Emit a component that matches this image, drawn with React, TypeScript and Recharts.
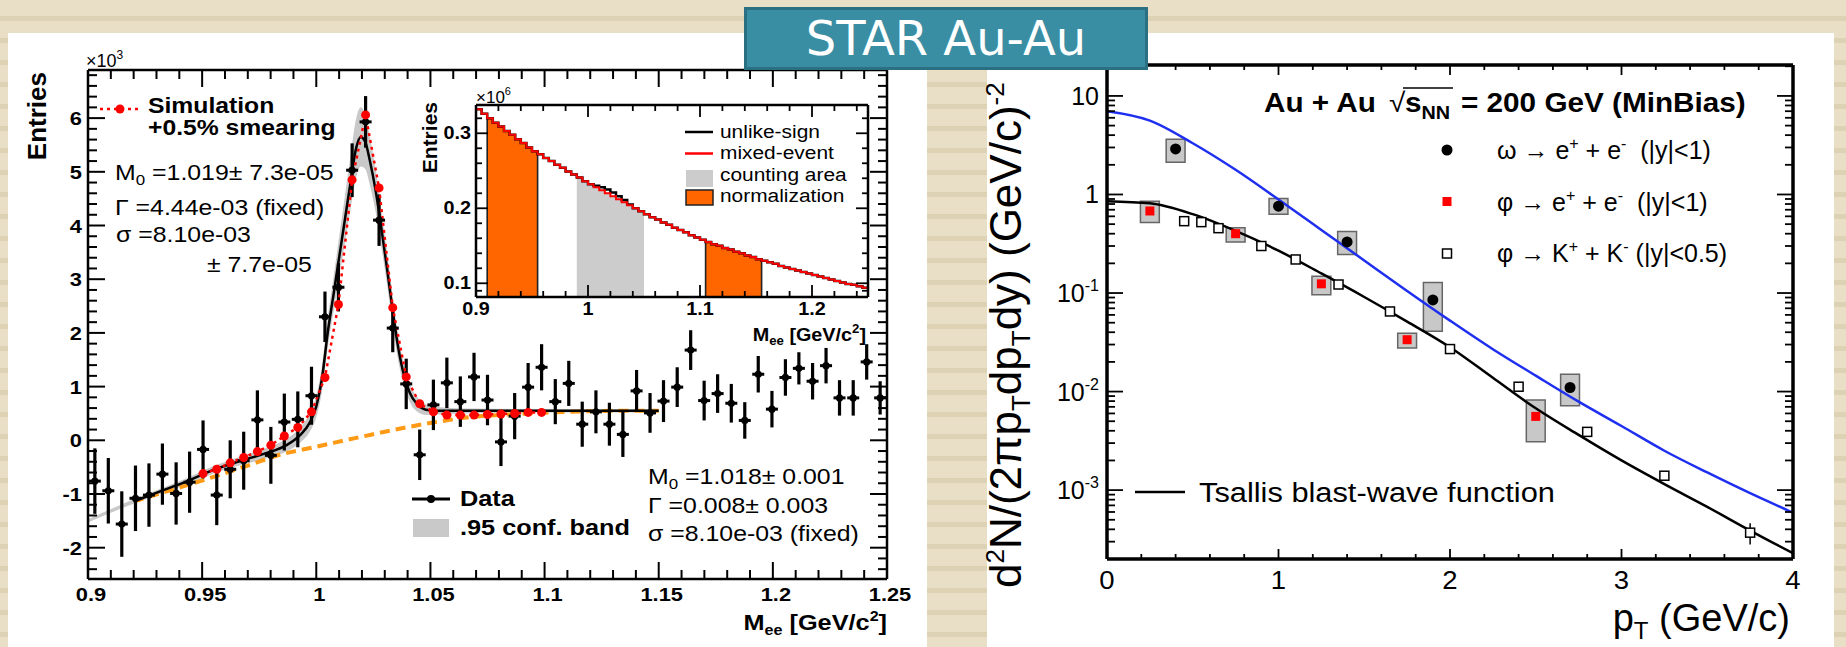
import React from "react";
import {
  ComposedChart,
  Line,
  Area,
  Scatter,
  XAxis,
  YAxis,
  ErrorBar,
  ReferenceArea,
  ReferenceLine,
} from "recharts";

// ---------- left panel: phi -> e+e- invariant mass (entries x10^3) ----------
const massBins = [
  0.903, 0.9089, 0.9148, 0.9208, 0.9267, 0.9326, 0.9386, 0.9445, 0.9504, 0.9564,
  0.9623, 0.9682, 0.9742, 0.9801, 0.986, 0.9919, 0.9979, 1.0038, 1.0097, 1.0157,
  1.0216, 1.0275, 1.0335, 1.0394, 1.0453, 1.0513, 1.0572, 1.0631, 1.0691, 1.075,
  1.0809, 1.0869, 1.0928, 1.0987, 1.1047, 1.1106, 1.1165, 1.1225, 1.1284, 1.1343,
  1.1403, 1.1462, 1.1521, 1.1581, 1.164, 1.1699, 1.1758, 1.1818, 1.1877, 1.1936,
  1.1996, 1.2055, 1.2114, 1.2174, 1.2233, 1.2292, 1.2352, 1.2411, 1.247,
];
const dataEntries = [
  -0.76, -0.94, -1.56, -1.08, -1.02, -0.63, -0.99, -0.78, -0.17, -1.02, -0.54, -0.38,
  0.38, -0.28, 0.34, 0.39, 0.83, 2.3, 2.85, 5.03, 5.93, 4.1, 2.09, 1.05, -0.27, 0.66,
  1.07, 0.72, 1.18, 0.75, -0.03, 0.45, 0.99, 1.36, 0.72, 1.06, 0.3, 0.53, 0.3, 0.11,
  0.92, 0.51, 0.73, 0.99, 1.68, 0.74, 0.87, 0.69, 0.37, 1.23, 0.58, 1.17, 1.34, 1.1,
  1.39, 0.79, 0.79, 1.46, 0.79,
];
const dataErrors = [
  0.61, 0.61, 0.61, 0.61, 0.59, 0.57, 0.58, 0.57, 0.54, 0.56, 0.54, 0.54, 0.55, 0.53,
  0.53, 0.52, 0.54, 0.47, 0.45, 0.5, 0.48, 0.48, 0.45, 0.47, 0.47, 0.47, 0.47, 0.47,
  0.45, 0.47, 0.45, 0.43, 0.45, 0.43, 0.42, 0.42, 0.42, 0.4, 0.4, 0.42, 0.39, 0.37,
  0.39, 0.37, 0.37, 0.37, 0.36, 0.36, 0.34, 0.34, 0.34, 0.34, 0.3, 0.34, 0.33, 0.33,
  0.33, 0.33, 0.31,
];
// simulation (+0.5% smearing) covers bins 8..33
const simFirstBin = 8;
const simEntries = [
  -0.62, -0.54, -0.42, -0.32, -0.21, -0.09, 0.08, 0.24, 0.53, 1.17, 2.53, 4.85, 6.06,
  4.7, 2.47, 1.18, 0.68, 0.53, 0.47, 0.47, 0.47, 0.48, 0.49, 0.5, 0.52, 0.52,
];
// fit: Breit-Wigner (x) Gauss on top of the background
const fitMass = [
  0.9, 0.92, 0.931, 0.943, 0.955, 0.967, 0.978, 0.987, 0.993, 0.997, 1.0, 1.0025,
  1.005, 1.0075, 1.01, 1.0125, 1.015, 1.0175, 1.0195, 1.0215, 1.0235, 1.026, 1.0285,
  1.031, 1.0335, 1.036, 1.0385, 1.041, 1.044, 1.048, 1.053, 1.07, 1.1, 1.125, 1.15,
];
const fitEntries = [
  -1.5, -1.14, -0.96, -0.77, -0.55, -0.38, -0.24, -0.09, 0.1, 0.32, 0.63, 1.15, 2.0,
  2.7, 3.4, 4.1, 4.8, 5.45, 5.65, 5.55, 5.2, 4.65, 3.95, 3.2, 2.4, 1.7, 1.2, 0.88, 0.68,
  0.57, 0.55, 0.55, 0.55, 0.55, 0.55,
];
const bandHalfWidth = [
  0.03, 0.04, 0.05, 0.06, 0.07, 0.08, 0.1, 0.12, 0.14, 0.17, 0.2, 0.24, 0.28, 0.32,
  0.38, 0.44, 0.5, 0.55, 0.55, 0.5, 0.45, 0.4, 0.35, 0.3, 0.27, 0.24, 0.2, 0.17, 0.14,
  0.1, 0.07, 0.04, 0.03, 0.03, 0.03,
];
const bgMass = [0.92, 0.94, 0.955, 0.97, 0.984, 1.0, 1.0235, 1.051, 1.067, 1.089, 1.111, 1.137, 1.15];
const bgEntries = [-1.14, -0.88, -0.68, -0.47, -0.27, -0.12, 0.1, 0.33, 0.43, 0.49, 0.53, 0.55, 0.55];

const mainXMajor = [0.9, 0.95, 1, 1.05, 1.1, 1.15, 1.2, 1.25];
const mainXLabels = ["0.9", "0.95", "1", "1.05", "1.1", "1.15", "1.2", "1.25"];
const mainYMajor = [-2, -1, 0, 1, 2, 3, 4, 5, 6];
const mainYLabels = ["-2", "-1", "0", "1", "2", "3", "4", "5", "6"];

// ---------- inset: same-event vs mixed-event pairs (x10^6) ----------
const insetMass = [
  0.9, 0.905, 0.91, 0.915, 0.92, 0.925, 0.93, 0.935, 0.94, 0.945, 0.95, 0.955, 0.96,
  0.965, 0.97, 0.975, 0.98, 0.985, 0.99, 0.995, 1.0, 1.005, 1.01, 1.015, 1.02, 1.025,
  1.03, 1.035, 1.04, 1.045, 1.05, 1.055, 1.06, 1.065, 1.07, 1.075, 1.08, 1.085, 1.09,
  1.095, 1.1, 1.105, 1.11, 1.115, 1.12, 1.125, 1.13, 1.135, 1.14, 1.145, 1.15, 1.155,
  1.16, 1.165, 1.17, 1.175, 1.18, 1.185, 1.19, 1.195, 1.2, 1.205, 1.21, 1.215, 1.22,
  1.225, 1.23, 1.235, 1.24, 1.245, 1.25,
];
const mixedEvent = [
  0.332, 0.326, 0.32, 0.314, 0.309, 0.303, 0.298, 0.292, 0.287, 0.281, 0.276, 0.272,
  0.267, 0.263, 0.258, 0.254, 0.249, 0.245, 0.241, 0.236, 0.232, 0.228, 0.224, 0.22,
  0.216, 0.212, 0.208, 0.204, 0.2, 0.196, 0.192, 0.188, 0.185, 0.181, 0.178, 0.174,
  0.171, 0.168, 0.164, 0.161, 0.158, 0.155, 0.152, 0.15, 0.147, 0.145, 0.142, 0.14,
  0.137, 0.135, 0.132, 0.13, 0.128, 0.126, 0.123, 0.121, 0.119, 0.117, 0.115, 0.113,
  0.111, 0.109, 0.107, 0.105, 0.103, 0.101, 0.099, 0.098, 0.096, 0.094, 0.092,
];
const unlikeSign = [
  0.332, 0.326, 0.32, 0.314, 0.309, 0.303, 0.298, 0.292, 0.287, 0.281, 0.276, 0.272,
  0.267, 0.263, 0.258, 0.254, 0.249, 0.245, 0.241, 0.236, 0.232, 0.23, 0.228, 0.225,
  0.221, 0.216, 0.211, 0.205, 0.2, 0.196, 0.192, 0.188, 0.185, 0.181, 0.178, 0.174,
  0.171, 0.168, 0.164, 0.161, 0.158, 0.155, 0.152, 0.15, 0.147, 0.145, 0.142, 0.14,
  0.137, 0.135, 0.132, 0.13, 0.128, 0.126, 0.123, 0.121, 0.119, 0.117, 0.115, 0.113,
  0.111, 0.109, 0.107, 0.105, 0.103, 0.101, 0.099, 0.098, 0.096, 0.094, 0.092,
];
const normWindows = [
  [0.91, 0.955],
  [1.105, 1.155],
];
const countWindow = [0.99, 1.05];
const insetXMajor = [0.9, 1.0, 1.1, 1.2];
const insetXLabels = ["0.9", "1", "1.1", "1.2"];
const insetYMajor = [0.1, 0.2, 0.3];
const insetYLabels = ["0.1", "0.2", "0.3"];
const insetYMin = 0.0817;

// ---------- right panel: pT spectra ----------
const omegaPt = [0.4, 1.0, 1.4, 1.9, 2.7];
const omegaYield = [2.9, 0.76, 0.33, 0.085, 0.011];
const omegaSysLow = [2.12, 0.63, 0.246, 0.041, 0.0072];
const omegaSysHigh = [3.63, 0.91, 0.42, 0.128, 0.015];
const phiEEPt = [0.25, 0.75, 1.25, 1.75, 2.5];
const phiEEYield = [0.68, 0.4, 0.124, 0.0336, 0.0056];
const phiEESysLow = [0.52, 0.33, 0.096, 0.0277, 0.0031];
const phiEESysHigh = [0.855, 0.46, 0.148, 0.039, 0.0082];
const phiKKPt = [0.45, 0.55, 0.65, 0.9, 1.1, 1.35, 1.65, 2.0, 2.4, 2.8, 3.25, 3.75];
const phiKKYield = [0.536, 0.524, 0.455, 0.3, 0.219, 0.122, 0.065, 0.027, 0.0112, 0.0039, 0.0014, 0.00037];
const phiKKErr = [0.01, 0.01, 0.009, 0.006, 0.004, 0.002, 0.001, 0.0006, 0.0004, 0.00015, 0.00008, 0.00009];
const curvePt = [0, 0.25, 0.5, 0.75, 1, 1.25, 1.5, 1.75, 2, 2.25, 2.5, 2.75, 3, 3.25, 3.5, 3.75, 4];
const omegaBlastWave = [
  7.0, 5.62, 3.31, 1.78, 0.89, 0.437, 0.214, 0.105, 0.0525, 0.0269, 0.0145, 0.0079,
  0.00447, 0.00251, 0.00151, 0.00093, 0.00059,
];
const phiBlastWave = [
  0.855, 0.813, 0.631, 0.427, 0.269, 0.158, 0.0912, 0.0513, 0.0282, 0.0138, 0.00676,
  0.00363, 0.002, 0.00115, 0.000676, 0.000389, 0.000229,
];
const sysHalfWidth = 0.055;
const ptMajor = [0, 1, 2, 3, 4];
const ptLabels = ["0", "1", "2", "3", "4"];
const yieldMajor = [10, 1, 0.1, 0.01, 0.001];
const yieldLabels = [["10", ""], ["1", ""], ["10", "-1"], ["10", "-2"], ["10", "-3"]];
const yieldDomain = [2.0e-4, 20.6];

// ---------- helpers ----------
const LS = "'Liberation Sans', Arial, Helvetica, sans-serif";

const span = (a: number, b: number, step: number) => {
  const out: number[] = [];
  for (let v = a; v <= b + step / 2; v += step) out.push(Math.round(v * 1e6) / 1e6);
  return out;
};
const logTicks = (() => {
  const out: number[] = [];
  for (let d = -4; d <= 1; d++)
    for (let m = 1; m <= 9; m++) {
      const v = +(m * Math.pow(10, d)).toPrecision(6);
      if (v > 2.05e-4 && v < 20.6) out.push(v);
    }
  return out;
})();

const within = (x: number, lo: number, hi: number) => x >= lo - 1e-9 && x <= hi + 1e-9;

// rich text: plain strings, or [text, fontSize, baselineShift] for sub/superscripts
type Part = string | [string, number, number];
function rich(parts: Part[]) {
  let shift = 0;
  return parts.map((p, k) => {
    const [t, size, s] = typeof p === "string" ? [p, undefined, 0] : p;
    const dy = s - shift;
    shift = s;
    return (
      <tspan key={k} dy={dy || undefined} fontSize={size}>
        {t}
      </tspan>
    );
  });
}

function SText({ x, y, sx = 1, anchor = "start", size, bold = false, fill = "#000", children }: any) {
  return (
    <text
      transform={`translate(${x},${y}) scale(${sx},1)`}
      textAnchor={anchor}
      fontSize={size}
      fontWeight={bold ? 700 : 400}
      fontFamily={LS}
      fill={fill}
      style={{ whiteSpace: "pre" }}
    >
      {children}
    </text>
  );
}

type Side = "bottom" | "top" | "left" | "right";
function axisTick(
  side: Side,
  majors: number[],
  majorLen: number,
  minorLen: number,
  sw: number,
  label?: (x: number, y: number, i: number) => React.ReactNode
) {
  return (props: any) => {
    const { x, y, payload } = props;
    const v = payload.value as number;
    const i = majors.findIndex((m) => Math.abs(m - v) <= 1e-9 + 1e-6 * Math.abs(m));
    const len = i >= 0 ? majorLen : minorLen;
    let x2 = x;
    let y2 = y;
    if (side === "bottom") y2 = y - len;
    else if (side === "top") y2 = y + len;
    else if (side === "left") x2 = x + len;
    else x2 = x - len;
    return (
      <g>
        <line x1={x} y1={y} x2={x2} y2={y2} stroke="#000" strokeWidth={sw} />
        {i >= 0 && label ? label(x, y, i) : null}
      </g>
    );
  };
}

// axes take 1px each so the plot box sits one pixel inside the margins
const axisBase = {
  type: "number" as const,
  allowDataOverflow: true,
  interval: 0 as const,
  tickSize: 0,
  tickMargin: 0,
  tickLine: false,
};

// ---------- rows ----------
const dataRows = massBins.map((x, i) => ({ x, y: dataEntries[i], e: dataErrors[i] }));
const simRows = simEntries.map((y, i) => ({ x: massBins[simFirstBin + i], y }));
const bandRows = fitMass.map((x, i) => ({
  x,
  lo: fitEntries[i] - bandHalfWidth[i],
  hi: fitEntries[i] + bandHalfWidth[i],
}));
const fitRows = fitMass.map((x, i) => ({ x, y: fitEntries[i] })).slice(1);
const bgRows = bgMass.map((x, i) => ({ x, y: bgEntries[i] }));

const mixedRows = insetMass.map((x, i) => ({ x, y: mixedEvent[i] }));
const unlikeRows = insetMass.map((x, i) => ({ x, y: unlikeSign[i] }));
const windowRows = (w: number[]) => mixedRows.filter((r) => within(r.x, w[0], w[1]));
const valueAt = (x: number) => mixedRows.find((r) => Math.abs(r.x - x) < 1e-9)?.y ?? insetYMin;

const omegaRows = omegaPt.map((x, i) => ({ x, y: omegaYield[i] }));
const phiEERows = phiEEPt.map((x, i) => ({ x, y: phiEEYield[i] }));
const phiKKRows = phiKKPt.map((x, i) => ({ x, y: phiKKYield[i], e: phiKKErr[i] }));
const omegaFitRows = curvePt.map((x, i) => ({ x, y: omegaBlastWave[i] }));
const phiFitRows = curvePt.map((x, i) => ({ x, y: phiBlastWave[i] }));

// ---------- markers ----------
const DataMark = (p: any) => (
  <g>
    <line x1={p.cx - 6} x2={p.cx + 6} y1={p.cy} y2={p.cy} stroke="#000" strokeWidth={3} />
    <circle cx={p.cx} cy={p.cy} r={3.6} fill="#000" />
  </g>
);
const OmegaMark = (p: any) => <circle cx={p.cx} cy={p.cy} r={5.5} fill="#000" />;
const PhiEEMark = (p: any) => <rect x={p.cx - 4.5} y={p.cy - 4.5} width={9} height={9} fill="#ff0000" />;
const PhiKKMark = (p: any) => (
  <rect x={p.cx - 4.5} y={p.cy - 4.5} width={9} height={9} fill="#fff" stroke="#000" strokeWidth={1.5} />
);

// ---------- left: invariant mass ----------
const massTicks = span(0.9, 1.25, 0.01);
const entryTicks = span(-2.4, 6.8, 0.2);
const mainBottom = axisTick("bottom", mainXMajor, 17, 9, 2, (x, y, i) => (
  <SText x={x + 3} y={y + 22} sx={1.15} anchor="middle" size={19} bold>
    {mainXLabels[i]}
  </SText>
));
const mainTop = axisTick("top", mainXMajor, 17, 9, 2);
const mainLeft = axisTick("left", mainYMajor, 17, 9, 2, (x, y, i) => (
  <SText x={x - 6} y={y + 7} sx={1.15} anchor="end" size={19} bold>
    {mainYLabels[i]}
  </SText>
));
const mainRight = axisTick("right", mainYMajor, 17, 9, 2);

function MassPlot() {
  const frame = { stroke: "#000", strokeWidth: 2.5 };
  return (
    <div style={{ position: "absolute", left: 0, top: 0 }}>
      <ComposedChart width={930} height={647} margin={{ top: 69, right: 42, bottom: 67, left: 87 }}>
        <XAxis {...axisBase} dataKey="x" domain={[0.9, 1.25]} ticks={massTicks} height={1} axisLine={frame} tick={mainBottom} />
        <XAxis {...axisBase} xAxisId="top" orientation="top" dataKey="x" domain={[0.9, 1.25]} ticks={massTicks} height={1} axisLine={frame} tick={mainTop} />
        <YAxis {...axisBase} dataKey="y" domain={[-2.583, 6.896]} ticks={entryTicks} width={1} axisLine={frame} tick={mainLeft} />
        <YAxis {...axisBase} yAxisId="right" orientation="right" dataKey="y" domain={[-2.583, 6.896]} ticks={entryTicks} width={1} axisLine={frame} tick={mainRight} />
        <Area data={bandRows} dataKey={(d: any) => [d.lo, d.hi]} type="monotone" stroke="none" fill="#c9c9c9" fillOpacity={1} dot={false} activeDot={false} isAnimationActive={false} />
        <Line data={bgRows} dataKey="y" type="monotone" stroke="#ff9a16" strokeWidth={4} strokeDasharray="10 6" dot={false} activeDot={false} isAnimationActive={false} />
        <Line data={fitRows} dataKey="y" type="monotone" stroke="#000" strokeWidth={2.5} dot={false} activeDot={false} isAnimationActive={false} />
        <Scatter data={dataRows} dataKey="y" shape={DataMark} isAnimationActive={false}>
          <ErrorBar dataKey="e" direction="y" width={0} stroke="#000" strokeWidth={3.2} isAnimationActive={false} />
        </Scatter>
        <Line data={simRows} dataKey="y" type="linear" stroke="#ff0000" strokeWidth={2.5} strokeDasharray="3 4" dot={{ r: 4.5, fill: "#ff0000", stroke: "#ff0000", strokeWidth: 0 }} activeDot={false} isAnimationActive={false} />
      </ComposedChart>
    </div>
  );
}

// ---------- inset ----------
const insetXTicks = span(0.9, 1.24, 0.02);
const insetYTicks = span(0.1, 0.32, 0.02).concat([0.09]);
const insetBottom = axisTick("bottom", insetXMajor, 12, 6, 1.8, (x, y, i) => (
  <SText x={x} y={y + 18} sx={1.1} anchor="middle" size={18} bold>
    {insetXLabels[i]}
  </SText>
));
const insetTop = axisTick("top", insetXMajor, 12, 6, 1.8);
const insetLeft = axisTick("left", insetYMajor, 12, 6, 1.8, (x, y, i) => (
  <SText x={x - 5} y={y + 6} sx={1.1} anchor="end" size={18} bold>
    {insetYLabels[i]}
  </SText>
));
const insetRight = axisTick("right", insetYMajor, 12, 6, 1.8);

function PairInset() {
  const frame = { stroke: "#000", strokeWidth: 2.5 };
  const dom = [insetYMin, 0.3377];
  return (
    <div style={{ position: "absolute", left: 400, top: 70 }}>
      <ComposedChart width={480} height={280} margin={{ top: 34, right: 11, bottom: 52, left: 75 }}>
        <XAxis {...axisBase} dataKey="x" domain={[0.9, 1.25]} ticks={insetXTicks} height={1} axisLine={frame} tick={insetBottom} />
        <XAxis {...axisBase} xAxisId="top" orientation="top" dataKey="x" domain={[0.9, 1.25]} ticks={insetXTicks} height={1} axisLine={frame} tick={insetTop} />
        <YAxis {...axisBase} dataKey="y" domain={dom} ticks={insetYTicks} width={1} axisLine={frame} tick={insetLeft} />
        <YAxis {...axisBase} yAxisId="right" orientation="right" dataKey="y" domain={dom} ticks={insetYTicks} width={1} axisLine={frame} tick={insetRight} />
        {normWindows.map((w, k) => (
          <Area key={`n${k}`} data={windowRows(w)} dataKey="y" type="stepAfter" baseValue={insetYMin} stroke="none" fill="#ff6600" fillOpacity={1} dot={false} activeDot={false} isAnimationActive={false} />
        ))}
        <Area data={windowRows(countWindow)} dataKey="y" type="stepAfter" baseValue={insetYMin} stroke="none" fill="#cccccc" fillOpacity={1} dot={false} activeDot={false} isAnimationActive={false} />
        {normWindows.flatMap((w, k) =>
          w.map((edge, j) => (
            <ReferenceLine
              key={`e${k}${j}`}
              segment={[
                { x: edge, y: insetYMin },
                { x: edge, y: valueAt(j === 0 ? edge : edge - 0.005) },
              ]}
              stroke="#222"
              strokeWidth={1.6}
            />
          ))
        )}
        <Line data={unlikeRows} dataKey="y" type="stepAfter" stroke="#000" strokeWidth={2.5} dot={false} activeDot={false} isAnimationActive={false} />
        <Line data={mixedRows} dataKey="y" type="stepAfter" stroke="#ff0000" strokeWidth={2} dot={false} activeDot={false} isAnimationActive={false} />
      </ComposedChart>
    </div>
  );
}

// ---------- right: transverse momentum spectra ----------
const ptTicks = span(0, 4, 0.2);
const spectraBottom = axisTick("bottom", ptMajor, 10, 5, 1.8, (x, y, i) => (
  <SText x={x} y={y + 30} sx={1.1} anchor="middle" size={25}>
    {ptLabels[i]}
  </SText>
));
const spectraTop = axisTick("top", ptMajor, 10, 5, 1.8);
const spectraLeft = axisTick("left", yieldMajor, 16, 8, 1.8, (x, y, i) => (
  <text x={x - 8} y={y + 9} textAnchor="end" fontSize={25} fontFamily={LS} fill="#000">
    {yieldLabels[i][1] ? rich([yieldLabels[i][0], [yieldLabels[i][1], 16, -11]]) : yieldLabels[i][0]}
  </text>
));
const spectraRight = axisTick("right", yieldMajor, 16, 8, 1.8);

function SpectraPlot() {
  const frame = { stroke: "#000", strokeWidth: 3.5 };
  return (
    <div style={{ position: "absolute", left: 987, top: 0 }}>
      <ComposedChart width={847} height={647} margin={{ top: 64, right: 40, bottom: 87, left: 119 }}>
        <XAxis {...axisBase} dataKey="x" domain={[0, 4]} ticks={ptTicks} height={1} axisLine={frame} tick={spectraBottom} />
        <XAxis {...axisBase} xAxisId="top" orientation="top" dataKey="x" domain={[0, 4]} ticks={ptTicks} height={1} axisLine={frame} tick={spectraTop} />
        <YAxis {...axisBase} scale="log" dataKey="y" domain={yieldDomain} ticks={logTicks} width={1} axisLine={frame} tick={spectraLeft} />
        <YAxis {...axisBase} scale="log" yAxisId="right" orientation="right" dataKey="y" domain={yieldDomain} ticks={logTicks} width={1} axisLine={frame} tick={spectraRight} />
        {omegaPt.map((x, i) => (
          <ReferenceArea key={`o${i}`} x1={x - sysHalfWidth} x2={x + sysHalfWidth} y1={omegaSysLow[i]} y2={omegaSysHigh[i]} fill="#c8c8c8" fillOpacity={1} stroke="#666" strokeWidth={1.5} ifOverflow="visible" />
        ))}
        {phiEEPt.map((x, i) => (
          <ReferenceArea key={`p${i}`} x1={x - sysHalfWidth} x2={x + sysHalfWidth} y1={phiEESysLow[i]} y2={phiEESysHigh[i]} fill="#c8c8c8" fillOpacity={1} stroke="#666" strokeWidth={1.5} ifOverflow="visible" />
        ))}
        <Line data={omegaFitRows} dataKey="y" type="monotone" stroke="#1f2ff0" strokeWidth={2.5} dot={false} activeDot={false} isAnimationActive={false} />
        <Line data={phiFitRows} dataKey="y" type="monotone" stroke="#000" strokeWidth={2.5} dot={false} activeDot={false} isAnimationActive={false} />
        <Scatter data={phiKKRows} dataKey="y" shape={PhiKKMark} isAnimationActive={false}>
          <ErrorBar dataKey="e" direction="y" width={0} stroke="#000" strokeWidth={1.5} isAnimationActive={false} />
        </Scatter>
        <Scatter data={phiEERows} dataKey="y" shape={PhiEEMark} isAnimationActive={false} />
        <Scatter data={omegaRows} dataKey="y" shape={OmegaMark} isAnimationActive={false} />
      </ComposedChart>
    </div>
  );
}

// ---------- titles, statistics boxes and legends ----------
function Labels() {
  return (
    <svg width={1846} height={647} style={{ position: "absolute", left: 0, top: 0, pointerEvents: "none" }}>
      {/* mass plot */}
      <SText x={86} y={67} size={18}>
        {rich(["×10", ["3", 12, -8]])}
      </SText>
      <text transform="translate(46,72) rotate(-90)" textAnchor="end" fontSize={26} fontWeight={700} fontFamily={LS}>
        Entries
      </text>
      <line x1={100} y1={109} x2={138} y2={109} stroke="#ff0000" strokeWidth={2.5} strokeDasharray="3 4" />
      <circle cx={120} cy={109} r={4.5} fill="#ff0000" />
      <SText x={148} y={113} sx={1.15} size={21.5} bold>
        Simulation
      </SText>
      <SText x={148} y={135} sx={1.15} size={21.5} bold>
        +0.5% smearing
      </SText>
      <SText x={115} y={180} sx={1.13} size={22}>
        {rich(["M", ["0", 15, 5], " =1.019± 7.3e-05"])}
      </SText>
      <SText x={115} y={215} sx={1.13} size={22}>
        Γ =4.44e-03 (fixed)
      </SText>
      <SText x={116} y={242} sx={1.13} size={22}>
        σ =8.10e-03
      </SText>
      <SText x={207} y={272} sx={1.13} size={22}>
        ± 7.7e-05
      </SText>
      <line x1={412} y1={499} x2={450} y2={499} stroke="#000" strokeWidth={3} />
      <circle cx={431} cy={499} r={4} fill="#000" />
      <SText x={460} y={506} sx={1.15} size={22} bold>
        Data
      </SText>
      <rect x={413} y={519} width={36} height={18} fill="#c9c9c9" />
      <SText x={460} y={535} sx={1.15} size={22} bold>
        .95 conf. band
      </SText>
      <SText x={648} y={484} sx={1.13} size={22}>
        {rich(["M", ["0", 15, 5], " =1.018± 0.001"])}
      </SText>
      <SText x={648} y={513} sx={1.13} size={22}>
        Γ =0.008± 0.003
      </SText>
      <SText x={648} y={541} sx={1.13} size={22}>
        σ =8.10e-03 (fixed)
      </SText>
      <SText x={887} y={630} sx={1.15} anchor="end" size={22} bold>
        {rich(["M", ["ee", 14, 5], " [GeV/c", ["2", 14, -9], "]"])}
      </SText>

      {/* inset */}
      <SText x={476} y={103} size={17}>
        {rich(["×10", ["6", 11, -8]])}
      </SText>
      <text transform="translate(437,102) rotate(-90)" textAnchor="end" fontSize={21} fontWeight={700} fontFamily={LS}>
        Entries
      </text>
      <line x1={685} y1={132} x2={713} y2={132} stroke="#000" strokeWidth={2.5} />
      <line x1={685} y1={153.5} x2={713} y2={153.5} stroke="#ff0000" strokeWidth={2.5} />
      <rect x={686} y={170} width={27} height={17} fill="#cccccc" />
      <rect x={686} y={190} width={27} height={15} fill="#ff6600" stroke="#222" strokeWidth={1.5} />
      <SText x={720} y={138} sx={1.1} size={19}>
        unlike-sign
      </SText>
      <SText x={720} y={159} sx={1.1} size={19}>
        mixed-event
      </SText>
      <SText x={720} y={181} sx={1.1} size={19}>
        counting area
      </SText>
      <SText x={720} y={202} sx={1.1} size={19}>
        normalization
      </SText>
      <SText x={866} y={341} sx={1.1} anchor="end" size={18} bold>
        {rich(["M", ["ee", 12, 4], " [GeV/c", ["2", 12, -8], "]"])}
      </SText>

      {/* spectra */}
      <text transform="translate(1021,588) rotate(-90)" fontSize={44} fontFamily={LS} style={{ whiteSpace: "pre" }}>
        {rich(["d", ["2", 26, -17], "N/(2πp", ["T", 26, 9], "dp", ["T", 26, 9], "dy) (GeV/c)", ["-2", 26, -17]])}
      </text>
      <SText x={1790} y={631} anchor="end" size={38}>
        {rich(["p", ["T", 24, 8], " (GeV/c)"])}
      </SText>
      <SText x={1264} y={112} sx={1.1} size={27} bold>
        Au + Au
      </SText>
      <SText x={1389} y={112} sx={1.1} size={27}>
        √
      </SText>
      <line x1={1403} y1={88} x2={1453} y2={88} stroke="#000" strokeWidth={1.6} />
      <SText x={1405} y={112} sx={1.1} size={27} bold>
        {rich(["s", ["NN", 18, 7]])}
      </SText>
      <SText x={1461} y={112} sx={1.1} size={27} bold>
        = 200 GeV (MinBias)
      </SText>
      <circle cx={1447} cy={150} r={5.5} fill="#000" />
      <rect x={1442.5} y={197} width={9} height={9} fill="#ff0000" />
      <rect x={1442.5} y={249} width={9} height={9} fill="#fff" stroke="#000" strokeWidth={1.5} />
      <SText x={1497} y={159} size={25}>
        {rich(["ω → e", ["+", 16, -10], " + e", ["-", 16, -10], "  (|y|<1)"])}
      </SText>
      <SText x={1497} y={211} size={25}>
        {rich(["φ → e", ["+", 16, -10], " + e", ["-", 16, -10], "  (|y|<1)"])}
      </SText>
      <SText x={1497} y={262} size={25}>
        {rich(["φ → K", ["+", 16, -10], " + K", ["-", 16, -10], " (|y|<0.5)"])}
      </SText>
      <line x1={1135} y1={492} x2={1185} y2={492} stroke="#000" strokeWidth={2.5} />
      <SText x={1199} y={502} sx={1.1} size={28}>
        Tsallis blast-wave function
      </SText>
    </svg>
  );
}

function StarBanner() {
  return (
    <div
      style={{
        position: "absolute",
        left: 744,
        top: 7,
        width: 404,
        height: 63,
        boxSizing: "border-box",
        background: "#3a8ea4",
        border: "3px solid #2a6f82",
        color: "#fff",
        fontFamily: "'DejaVu Sans', sans-serif",
        fontSize: 48,
        lineHeight: "56px",
        textAlign: "center",
      }}
    >
      STAR Au-Au
    </div>
  );
}

const STRIPES =
  "repeating-linear-gradient(to bottom, #e9dfc7 0px, #e9dfc7 16px, #ded2b4 16px, #ded2b4 21px, #e9dfc7 21px, #e9dfc7 22px)";

export default function App() {
  return (
    <div style={{ position: "relative", width: 1846, height: 647, overflow: "hidden", background: STRIPES }}>
      <style>{"body{margin:0}"}</style>
      <div style={{ position: "absolute", left: 8, top: 33, width: 919, height: 614, background: "#fff" }} />
      <div style={{ position: "absolute", left: 987, top: 33, width: 847, height: 614, background: "#fff" }} />
      <MassPlot />
      <PairInset />
      <SpectraPlot />
      <Labels />
      <StarBanner />
    </div>
  );
}
